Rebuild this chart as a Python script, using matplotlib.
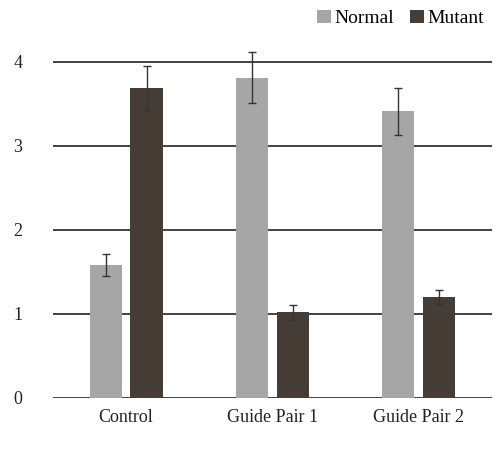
import matplotlib
matplotlib.use("Agg")
import matplotlib.pyplot as plt
import numpy as np

categories = ["Control", "Guide Pair 1", "Guide Pair 2"]
normal = [1.58, 3.81, 3.41]
normal_err = [0.135, 0.30, 0.28]
mutant = [3.69, 1.02, 1.20]
mutant_err = [0.26, 0.09, 0.085]
yticks = [0, 1, 2, 3, 4]

plt.rcParams['font.family'] = ['Liberation Serif', 'DejaVu Serif']
fig = plt.figure(figsize=(5.04, 4.66), dpi=100)
ax = fig.add_axes([0.105, 0.146, 0.871, 0.794])
x = np.arange(len(categories))
w = 0.22
ekw = dict(ecolor='#333333', elinewidth=1, capsize=3, capthick=1)
ax.bar(x - 0.14, normal, w, yerr=normal_err, color='#a6a6a6', label='Normal', error_kw=ekw, zorder=3)
ax.bar(x + 0.14, mutant, w, yerr=mutant_err, color='#453d35', label='Mutant', error_kw=ekw, zorder=3)
ax.set_xlim(-0.5, 2.5)
ax.set_ylim(0, 4.4)
ax.set_yticks(yticks)
for t in yticks:
    ax.axhline(t, color='#222222', lw=1.2, zorder=2)
for s in ax.spines.values():
    s.set_visible(False)
ax.tick_params(length=0, labelsize=13, colors='#222222')
ax.tick_params(axis='y', pad=22)
ax.tick_params(axis='x', pad=8)
ax.set_xticks(x)
ax.set_xticklabels(categories)
ax.legend(loc='upper right', bbox_to_anchor=(1.0, 1.07), ncol=2, frameon=False, fontsize=14,
          handlelength=0.7, handleheight=0.7, handletextpad=0.2, columnspacing=0.8, borderaxespad=0)
fig.savefig("out.png", dpi=100)
